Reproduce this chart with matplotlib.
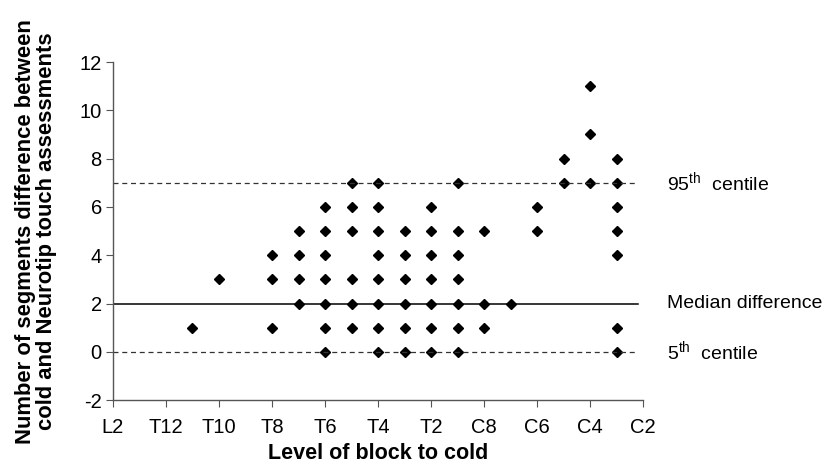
import matplotlib.pyplot as plt

plt.rcParams['font.family'] = ['Liberation Sans', 'DejaVu Sans']
plt.rcParams['mathtext.fontset'] = 'custom'
plt.rcParams['mathtext.rm'] = 'Liberation Sans'
plt.rcParams['axes.unicode_minus'] = False

levels = ['L2', 'L1', 'T12', 'T11', 'T10', 'T9', 'T8', 'T7', 'T6', 'T5', 'T4',
          'T3', 'T2', 'T1', 'C8', 'C7', 'C6', 'C5', 'C4', 'C3', 'C2']

# (level of block to cold, difference in segments) for each patient
point_level = (['T11'] + ['T10'] + ['T8'] * 3 + ['T7'] * 4 + ['T6'] * 7 + ['T5'] * 6
               + ['T4'] * 8 + ['T3'] * 6 + ['T2'] * 7 + ['T1'] * 7 + ['C8'] * 3
               + ['C7'] + ['C6'] * 2 + ['C5'] * 2 + ['C4'] * 3 + ['C3'] * 7)
point_diff = ([1]
              + [3]
              + [4, 3, 1]
              + [5, 4, 3, 2]
              + [6, 5, 4, 3, 2, 1, 0]
              + [7, 6, 5, 3, 2, 1]
              + [7, 6, 5, 4, 3, 2, 1, 0]
              + [5, 4, 3, 2, 1, 0]
              + [6, 5, 4, 3, 2, 1, 0]
              + [7, 5, 4, 3, 2, 1, 0]
              + [5, 2, 1]
              + [2]
              + [6, 5]
              + [8, 7]
              + [11, 9, 7]
              + [8, 7, 6, 5, 4, 1, 0])

p95 = 7
median = 2
p5 = 0

fig = plt.figure(figsize=(8.27, 4.68), dpi=100)
ax = fig.add_axes([0.1366, 0.145, 0.641, 0.7225])

x = [levels.index(l) for l in point_level]
ax.plot(x, point_diff, linestyle='none', marker='D', markersize=5.5, color='black')

ax.axhline(p95, xmin=0, xmax=0.99, color='#333333', lw=0.9, ls=(0, (4, 3)))
ax.axhline(median, xmin=0, xmax=0.99, color='black', lw=1.1)
ax.axhline(p5, xmin=0, xmax=0.99, color='#333333', lw=0.9, ls=(0, (4, 3)))

ax.text(20.9, p95, '95$^{\\mathrm{th}}$  centile', fontsize=14, va='center', ha='left')
ax.text(20.9, median, 'Median difference', fontsize=14, va='center', ha='left')
ax.text(20.9, p5, '5$^{\\mathrm{th}}$  centile', fontsize=14, va='center', ha='left')

ax.set_xlim(0, 20)
ax.set_ylim(-2, 12)
ax.set_xticks(range(0, 21, 2))
ax.set_xticklabels(levels[::2])
ax.set_yticks(range(-2, 13, 2))

for s in ['top', 'right']:
    ax.spines[s].set_visible(False)
for s in ['left', 'bottom']:
    ax.spines[s].set_color('#555555')
    ax.spines[s].set_linewidth(1.0)
ax.tick_params(axis='y', direction='out', length=5, color='#555555', labelsize=14.5, pad=3)
ax.tick_params(axis='x', direction='out', length=5, color='#555555', labelsize=14.5, pad=8)

ax.set_xlabel('Level of block to cold', fontsize=15.5, fontweight='bold', labelpad=4)
ax.set_ylabel('Number of segments difference between\ncold and Neurotip touch assessments',
              fontsize=15.8, fontweight='bold', linespacing=1.02)
ax.yaxis.set_label_coords(-0.105, 0.5)

fig.savefig('out.png', dpi=100)
